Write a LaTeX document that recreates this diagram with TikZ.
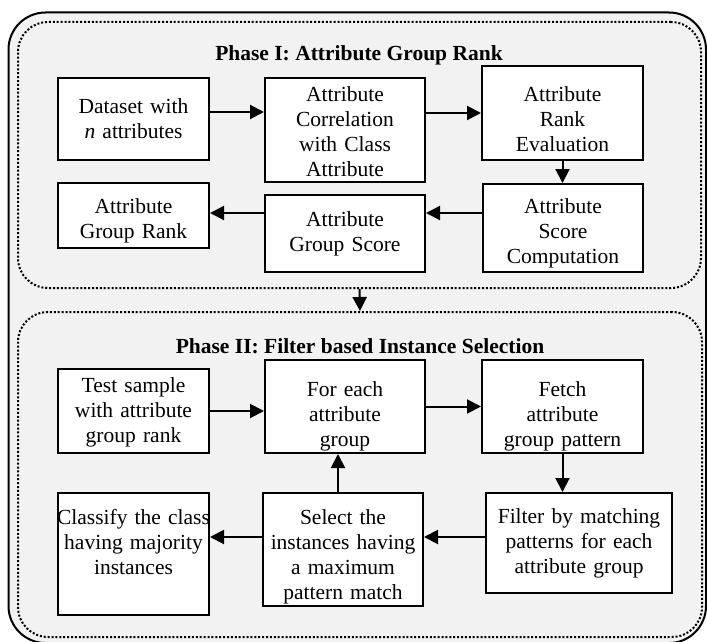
\documentclass[tikz,border=0pt]{standalone}
\usepackage{fontspec}
\setmainfont{Liberation Serif}
\usetikzlibrary{arrows.meta,calc}
\definecolor{bggray}{HTML}{F2F2F2}
\newcommand{\topgap}[1]{\rule{0pt}{#1}}
\newcommand{\botgap}[1]{\rule[-#1]{0pt}{1pt}}
\begin{document}
\begin{tikzpicture}[x=1pt,y=-1pt,
  box/.style={draw, line width=2pt, fill=white, inner sep=0pt, align=center,
    font=\fontsize{21.5pt}{25pt}\selectfont},
  arr/.style={line width=2pt, -{Triangle[length=14pt,width=14pt]}},
  phase/.style={draw, line width=2pt, dash pattern=on 2pt off 1.9pt,
    rounded corners=30pt, inner sep=0pt},
  ttl/.style={font=\fontsize{21.5pt}{26pt}\selectfont\bfseries, anchor=base, inner sep=0pt}]
\useasboundingbox (0,0) rectangle (707,642);
% outer frame
\draw[line width=2pt, fill=bggray, rounded corners=37pt] (8.5,12.5) rectangle (706,643);
% phase containers
\node[phase, minimum width=683pt, minimum height=266pt] (p1) at (359.5,155) {};
\node[phase, minimum width=684pt, minimum height=325pt] (p2) at (360,474.5) {};
\node[ttl] (t1) at (359,61) {Phase I: Attribute Group Rank};
\node[ttl] (t2) at (360,353) {Phase II: Filter based Instance Selection};
% Phase I boxes
\node[box, text width=151pt, minimum height=82pt] (ds) at (133.5,119) {Dataset with\\ \textit{n} attributes};
\node[box, text width=160pt, minimum height=104pt] (corr) at (345,130) {\topgap{19pt}Attribute\\ Correlation\\ with Class\\ Attribute};
\node[box, text width=161pt, minimum height=94pt] (re) at (562.5,113) {\topgap{28pt}Attribute\\ Rank\\ Evaluation};
\node[box, text width=160pt, minimum height=88pt] (sc) at (563,228) {\topgap{26pt}Attribute\\ Score\\ Computation};
\node[box, text width=160pt, minimum height=77pt] (gs) at (345,233.5) {Attribute\\ Group Score};
\node[box, text width=151pt, minimum height=65pt] (gr) at (133.5,215.5) {\topgap{26pt}Attribute\\ Group Rank};
% Phase II boxes
\node[box, text width=151pt, minimum height=84pt] (ts) at (133.5,411) {\topgap{17pt}Test sample\\ with attribute\\ group rank};
\node[box, text width=160pt, minimum height=93pt] (fe) at (345,406.5) {\topgap{34pt}For each\\ attribute\\ group};
\node[box, text width=161pt, minimum height=93pt] (ft) at (562.5,406.5) {\topgap{34pt}Fetch\\ attribute\\ group pattern};
\node[box, text width=186pt, minimum height=100pt] (fl) at (579,543) {Filter by matching\\ patterns for each\\ attribute group};
\node[box, text width=160pt, minimum height=113pt] (sel) at (343,549.5) {\topgap{30pt}Select the\\ instances having\\ a maximum\\ pattern match};
\node[box, text width=155pt, inner xsep=-2pt, minimum height=122pt] (cls) at (133.5,554) {Classify the class\\ having majority\\ instances\botgap{25pt}};
% Phase I connectors
\draw[arr] ([yshift=7pt]ds.east) -- ([yshift=7pt]ds.east -| corr.west);
\draw[arr] (re.west -| corr.east) -- (re.west);
\draw[arr] (re.south) -- (re.south |- sc.north);
\draw[arr] ([yshift=15pt]sc.west) -- ([yshift=15pt]sc.west -| gs.east);
\draw[arr] ([yshift=15pt]sc.west -| gs.west) -- ([yshift=15pt]sc.west -| gr.east);
% between phases
\draw[arr] (p1.south) -- (p2.north);
% Phase II connectors
\draw[arr] (ts.east) -- (ts.east -| fe.west);
\draw[arr] (fe.east) -- (fe.east -| ft.west);
\draw[arr] (ft.south) -- (ft.south |- fl.north);
\draw[arr] ([yshift=6pt]fl.west) -- ([yshift=6pt]fl.west -| sel.east);
\draw[arr] ([xshift=-5pt]sel.north) -- ([xshift=-5pt]sel.north |- fe.south);
\draw[arr] ([yshift=6pt]fl.west -| sel.west) -- ([yshift=6pt]fl.west -| cls.east);
\end{tikzpicture}
\end{document}
